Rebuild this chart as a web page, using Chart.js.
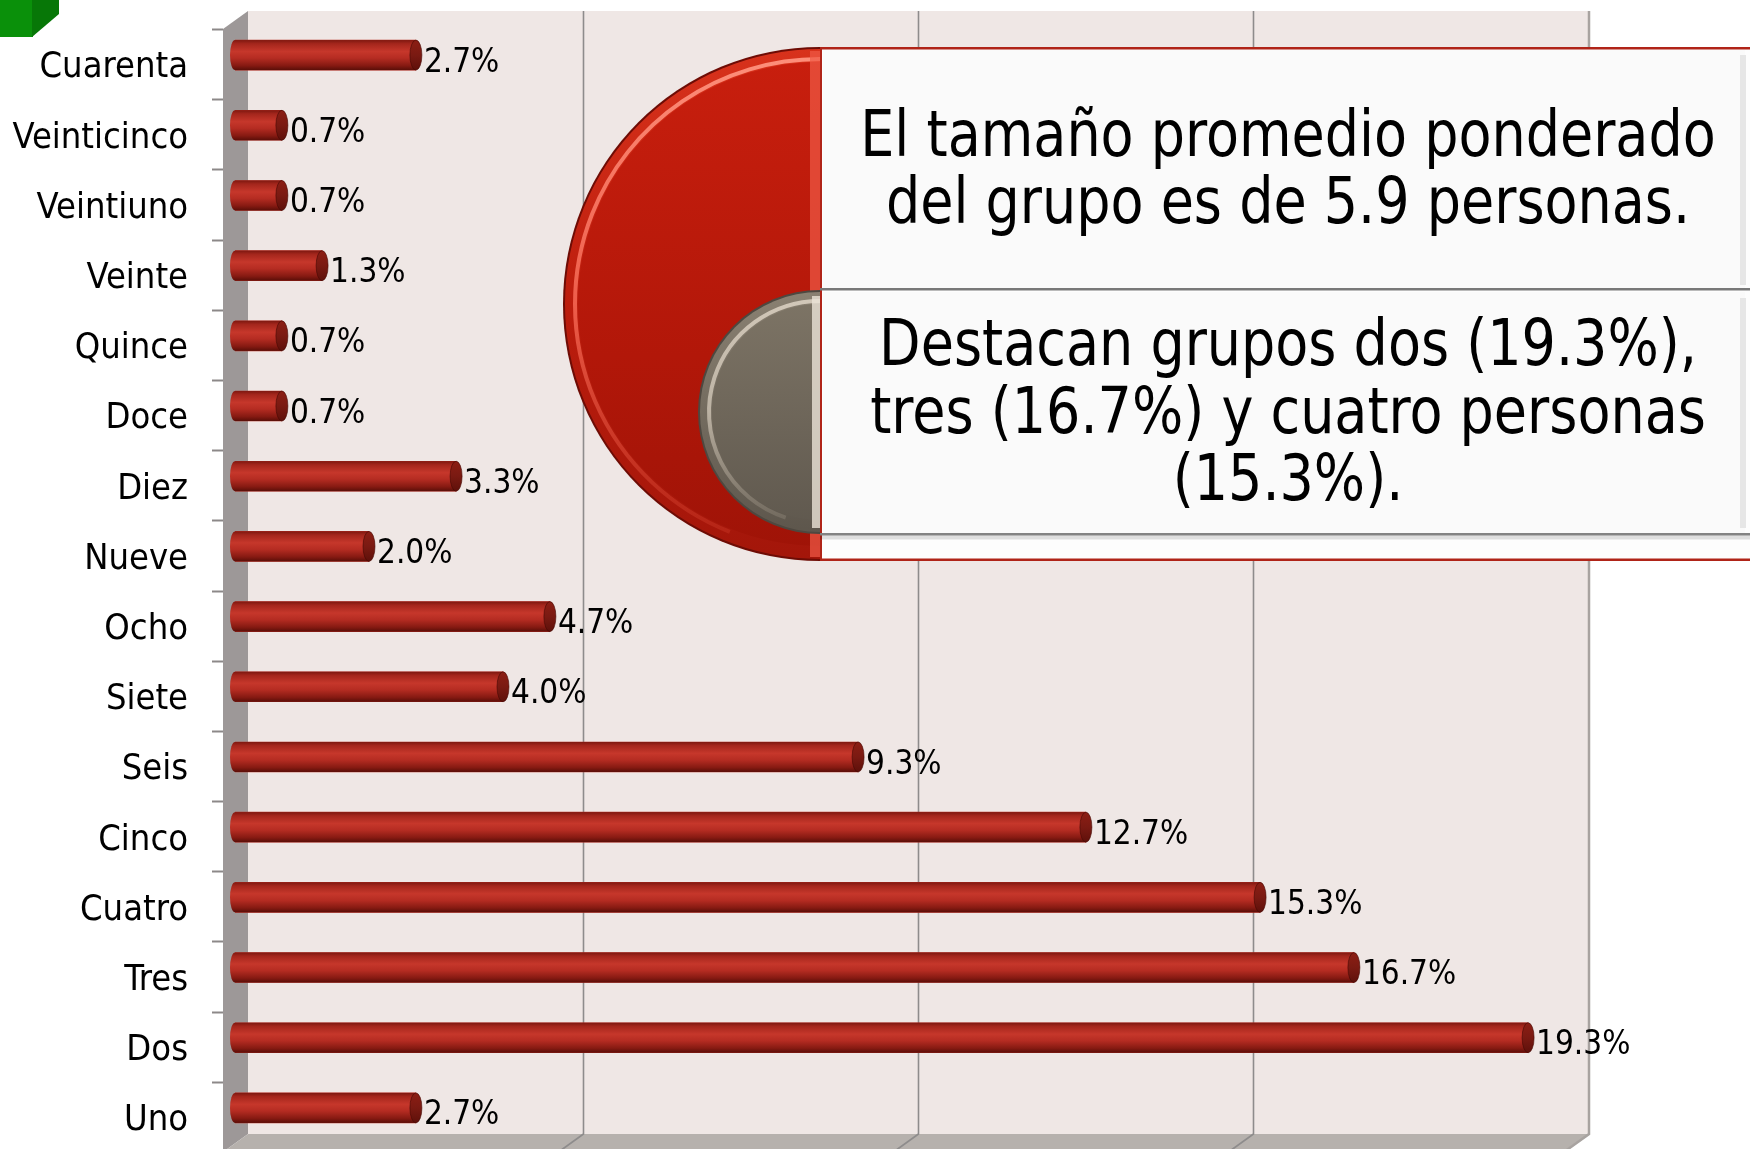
<!DOCTYPE html>
<html>
<head>
<meta charset="utf-8">
<script src="https://cdn.jsdelivr.net/npm/chart.js@4/dist/chart.umd.min.js"></script>
<style>
  html, body { margin:0; padding:0; background:#ffffff; overflow:hidden; }
  #wrap { width:1750px; height:1149px; overflow:hidden; position:relative; }
  canvas { display:block; }
</style>
</head>
<body>
<div id="wrap"><canvas id="c" width="1750" height="1174"></canvas></div>
<script>
// ---- data ----
const categories = ['Cuarenta','Veinticinco','Veintiuno','Veinte','Quince','Doce','Diez','Nueve','Ocho','Siete','Seis','Cinco','Cuatro','Tres','Dos','Uno'];
const percentages = [2.7, 0.7, 0.7, 1.3, 0.7, 0.7, 3.3, 2.0, 4.7, 4.0, 9.3, 12.7, 15.3, 16.7, 19.3, 2.7];
const xTicks = [0, 5, 10, 15, 20];
const calloutTop = ['El tamaño promedio ponderado', 'del grupo es de 5.9 personas.'];
const calloutBottom = ['Destacan grupos dos (19.3%),', 'tres (16.7%) y cuatro personas', '(15.3%).'];

const FONT = '"DejaVu Sans Condensed", "DejaVu Sans", sans-serif';
const DEPTH_X = 25, DEPTH_Y = 18;      // back wall -> front edge
const BAR_DX = -13, BAR_DY = -9;       // bars sit mid-depth

const scene = {
  id: 'scene3d',
  beforeDraw(chart) {
    const ctx = chart.ctx, a = chart.chartArea, xs = chart.scales.x;
    const bt = a.top - DEPTH_Y, bb = a.bottom - DEPTH_Y;
    const x0 = xs.getPixelForValue(xTicks[0]);
    const xN = xs.getPixelForValue(xTicks[xTicks.length - 1]);
    ctx.save();
    ctx.fillStyle = '#efe7e5';
    ctx.fillRect(x0, bt, xN - x0, bb - bt);
    ctx.fillStyle = '#9d9898';
    ctx.beginPath();
    ctx.moveTo(x0 - DEPTH_X, bt + DEPTH_Y);
    ctx.lineTo(x0, bt);
    ctx.lineTo(x0, bb);
    ctx.lineTo(x0 - DEPTH_X, bb + DEPTH_Y);
    ctx.closePath(); ctx.fill();
    ctx.fillStyle = '#b6b1ad';
    ctx.beginPath();
    ctx.moveTo(x0, bb); ctx.lineTo(xN, bb);
    ctx.lineTo(xN - DEPTH_X, bb + DEPTH_Y); ctx.lineTo(x0 - DEPTH_X, bb + DEPTH_Y);
    ctx.closePath(); ctx.fill();
    ctx.strokeStyle = '#8e8c8c'; ctx.lineWidth = 1.6;
    xTicks.forEach(v => {
      if (v === xTicks[0] || v === xTicks[xTicks.length - 1]) return;
      const gx = Math.round(xs.getPixelForValue(v)) + 0.5;
      ctx.beginPath(); ctx.moveTo(gx, bt); ctx.lineTo(gx, bb);
      ctx.lineTo(gx - DEPTH_X, bb + DEPTH_Y); ctx.stroke();
    });
    ctx.strokeStyle = '#a8a3a0'; ctx.lineWidth = 2.5;
    ctx.beginPath(); ctx.moveTo(xN + 1, bt); ctx.lineTo(xN + 1, bb);
    ctx.lineTo(xN + 1 - DEPTH_X, bb + DEPTH_Y); ctx.stroke();
    ctx.strokeStyle = '#8c8888'; ctx.lineWidth = 2;
    const n = categories.length;
    for (let i = 0; i <= n; i++) {
      const ty = Math.round(a.top + (a.bottom - a.top) * i / n) + 0.5;
      ctx.beginPath(); ctx.moveTo(x0 - DEPTH_X - 11, ty); ctx.lineTo(x0 - DEPTH_X, ty); ctx.stroke();
    }
    ctx.fillStyle = '#0a900a'; ctx.fillRect(0, 0, 33, 37);
    ctx.fillStyle = '#077707';
    ctx.beginPath(); ctx.moveTo(32, 0); ctx.lineTo(59, 0); ctx.lineTo(59, 14); ctx.lineTo(32, 37); ctx.closePath(); ctx.fill();
    ctx.restore();
  },
  beforeDatasetsDraw(chart) {
    chart.ctx.save();
    chart.ctx.translate(BAR_DX, BAR_DY);
  },
  afterDatasetsDraw(chart) {
    const ctx = chart.ctx;
    const meta = chart.getDatasetMeta(0);
    meta.data.forEach((el, i) => {
      const p = el.getProps(['x', 'y', 'base', 'height'], true);
      const h = p.height, top = p.y - h / 2;
      const g = ctx.createLinearGradient(0, top, 0, top + h);
      g.addColorStop(0, '#7e1810'); g.addColorStop(0.12, '#a4261c');
      g.addColorStop(0.38, '#c6372b'); g.addColorStop(0.6, '#b52c22');
      g.addColorStop(0.85, '#861a12'); g.addColorStop(1, '#5a0e08');
      ctx.fillStyle = g;
      ctx.fillRect(p.base, top, p.x - p.base, h);
      ctx.beginPath();
      ctx.ellipse(p.base, p.y, 5, h / 2, 0, Math.PI / 2, Math.PI * 1.5);
      ctx.closePath(); ctx.fill();
      const cg = ctx.createLinearGradient(0, top, 0, top + h);
      cg.addColorStop(0, '#8c1e14'); cg.addColorStop(0.5, '#7a1a12'); cg.addColorStop(1, '#5e100a');
      ctx.fillStyle = cg;
      ctx.beginPath(); ctx.ellipse(p.x, p.y, 6, h / 2, 0, 0, Math.PI * 2); ctx.fill();
      ctx.strokeStyle = 'rgba(70,8,4,0.6)'; ctx.lineWidth = 1; ctx.stroke();
      ctx.fillStyle = '#000000';
      ctx.font = '33px ' + FONT;
      ctx.textAlign = 'left'; ctx.textBaseline = 'middle';
      ctx.fillText(percentages[i].toFixed(1) + '%', p.x + 8, p.y + 8);
    });
    ctx.restore();
  },
  afterDraw(chart) {
    drawCallout(chart.ctx);
  }
};

function halfDisc(ctx, cx, cy, r) {
  ctx.beginPath();
  ctx.arc(cx, cy, r, Math.PI / 2, Math.PI * 1.5);
  ctx.closePath();
}

function drawCallout(ctx) {
  const bx = 820, top = 47, bot = 561, right = 1762;
  const cx = bx, cy = (top + bot) / 2, r = (bot - top) / 2;
  ctx.save();
  halfDisc(ctx, cx, cy, r); ctx.fillStyle = '#6e0c05'; ctx.fill();
  let g = ctx.createLinearGradient(0, top, 0, bot);
  g.addColorStop(0, '#d8321c'); g.addColorStop(0.5, '#bc1d0d'); g.addColorStop(1, '#a3160a');
  halfDisc(ctx, cx, cy, r - 2); ctx.fillStyle = g; ctx.fill();
  ctx.beginPath(); ctx.arc(cx, cy, r - 12, Math.PI * 0.62, Math.PI * 1.5);
  const hg = ctx.createLinearGradient(0, top, 0, bot);
  hg.addColorStop(0, 'rgba(255,150,130,0.95)'); hg.addColorStop(0.5, 'rgba(250,110,90,0.8)'); hg.addColorStop(1, 'rgba(220,70,50,0.2)');
  ctx.strokeStyle = hg; ctx.lineWidth = 4; ctx.stroke();
  halfDisc(ctx, cx, cy, r - 15);
  const ig = ctx.createLinearGradient(0, top, 0, bot);
  ig.addColorStop(0, '#c91f0e'); ig.addColorStop(0.6, '#b21709'); ig.addColorStop(1, '#9e1307');
  ctx.fillStyle = ig; ctx.fill();
  ctx.fillStyle = 'rgba(240,90,70,0.7)'; ctx.fillRect(bx - 10, top + 4, 10, bot - top - 8);

  ctx.fillStyle = '#fdfdfd'; ctx.fillRect(bx, top, right - bx, bot - top);
  ctx.fillStyle = '#b02418';
  ctx.fillRect(bx, top, right - bx, 2.5);
  ctx.fillRect(bx, bot - 2.5, right - bx, 2.5);
  ctx.fillRect(bx, top, 2, bot - top);
  ctx.fillStyle = '#fafafa'; ctx.fillRect(bx + 3, top + 3, 1745 - bx - 3, 289 - top - 3);
  ctx.fillStyle = '#e6e6e6'; ctx.fillRect(1740, top + 8, 6, 289 - top - 12);
  ctx.fillStyle = '#787878'; ctx.fillRect(bx, 288, right - bx, 2.5);
  ctx.fillStyle = '#fafafa'; ctx.fillRect(bx + 3, 292, 1745 - bx - 3, 533 - 292);
  ctx.fillStyle = '#e6e6e6'; ctx.fillRect(1740, 298, 6, 230);
  ctx.fillStyle = '#838383'; ctx.fillRect(bx, 533, right - bx, 2.5);
  ctx.fillStyle = 'rgba(0,0,0,0.12)'; ctx.fillRect(bx, 535.5, right - bx, 4);

  const gcy = (290 + 534) / 2, gr = (534 - 290) / 2;
  halfDisc(ctx, bx, gcy, gr); ctx.fillStyle = '#4e4840'; ctx.fill();
  const gg = ctx.createLinearGradient(0, 290, 0, 534);
  gg.addColorStop(0, '#8a8172'); gg.addColorStop(1, '#5d564c');
  halfDisc(ctx, bx, gcy, gr - 2); ctx.fillStyle = gg; ctx.fill();
  ctx.beginPath(); ctx.arc(bx, gcy, gr - 11, Math.PI * 0.6, Math.PI * 1.5);
  const gh = ctx.createLinearGradient(0, 290, 0, 534);
  gh.addColorStop(0, 'rgba(215,205,190,0.95)'); gh.addColorStop(0.5, 'rgba(200,190,175,0.85)'); gh.addColorStop(1, 'rgba(160,150,135,0.2)');
  ctx.strokeStyle = gh; ctx.lineWidth = 4; ctx.stroke();
  halfDisc(ctx, bx, gcy, gr - 14);
  const gi = ctx.createLinearGradient(0, 290, 0, 534);
  gi.addColorStop(0, '#7e7566'); gi.addColorStop(1, '#5f584e');
  ctx.fillStyle = gi; ctx.fill();
  ctx.fillStyle = 'rgba(235,228,215,0.8)'; ctx.fillRect(bx - 8, 296, 8, 232);

  // texts (slightly taller than wide, like the original)
  ctx.fillStyle = '#000000';
  ctx.font = '60px ' + FONT;
  ctx.textAlign = 'center'; ctx.textBaseline = 'alphabetic';
  const tx = 1288, sy = 1.07;
  const topBase = [156, 223], botBase = [365, 433, 500];
  const put = (t, y) => { ctx.save(); ctx.translate(tx, y); ctx.scale(1, sy); ctx.fillText(t, 0, 0); ctx.restore(); };
  calloutTop.forEach((t, i) => put(t, topBase[i]));
  calloutBottom.forEach((t, i) => put(t, botBase[i]));
  ctx.restore();
}

new Chart(document.getElementById('c'), {
  type: 'bar',
  data: {
    labels: categories,
    datasets: [{ data: percentages, backgroundColor: '#b82c22', borderWidth: 0, barThickness: 30 }]
  },
  options: {
    indexAxis: 'y',
    responsive: false,
    animation: false,
    devicePixelRatio: 1,
    layout: { padding: { left: 0, right: 162, top: 29, bottom: 22 } },
    plugins: { legend: { display: false }, tooltip: { enabled: false } },
    scales: {
      x: { min: xTicks[0], max: xTicks[xTicks.length - 1], display: false },
      y: {
        offset: true,
        grid: { display: true, drawOnChartArea: false, drawTicks: true, tickLength: 60, color: 'rgba(0,0,0,0)' },
        border: { display: false },
        ticks: { color: '#000000', font: { family: FONT, size: 36 }, padding: 0, labelOffset: 4 },
        afterFit(s) { s.width = 248; }
      }
    }
  },
  plugins: [scene]
});
</script>
</body>
</html>
